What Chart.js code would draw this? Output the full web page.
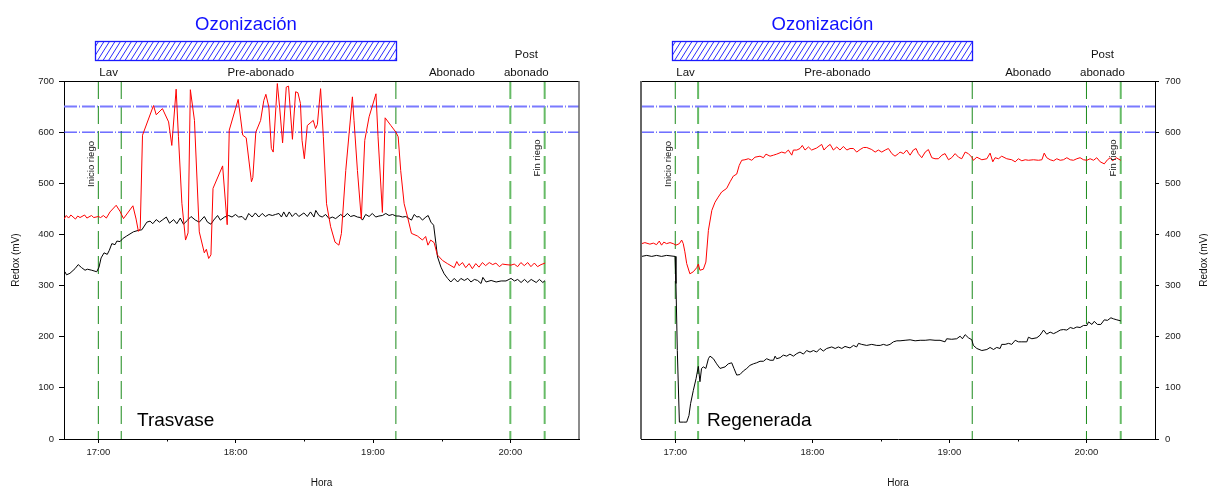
<!DOCTYPE html>
<html>
<head>
<meta charset="utf-8">
<script src="https://cdn.jsdelivr.net/npm/chart.js@4.4.0/dist/chart.umd.min.js"></script>
<style>
  body { margin: 0; background: #fff; }
  #wrap { position: relative; width: 1208px; height: 488px; }
  canvas { position: absolute; top: 0; }
</style>
</head>
<body>
<div id="wrap">
  <canvas id="trasvase" width="604" height="488" style="left:0;width:604px;height:488px"></canvas>
  <canvas id="regenerada" width="604" height="488" style="left:604px;width:604px;height:488px"></canvas>
</div>
<script>
// time is in minutes after 16:00
const hourTicks = [60, 120, 180, 240];
const hourLabels = ['17:00', '18:00', '19:00', '20:00'];
const halfHourTicks = [90, 150, 210];
const limitValues = [650, 600];
const riegoTimes = [60, 70, 190, 240, 255];
const ozoneSpan = [58.5, 190];
const phaseNames = ['Lav', 'Pre-abonado', 'Abonado', 'abonado'];
const phaseCenters = [64.5, 131, 214.5, 247];

// Trasvase - red
const trasRedT = [45, 46, 47, 48, 50, 51, 52, 54, 55, 57, 58, 60, 61, 62.2, 63.5, 65.1, 67.8, 69.5, 71, 75.1, 76.5, 77.5, 78.3, 79.3,
  84.1, 85.3, 88, 90.7, 92.1, 94, 95, 96.5, 98.1, 99.2, 100.2, 102, 104.1, 106.3, 107.2, 108.2, 109.2, 110.1, 114.3, 116.3, 117.2,
  121.1, 123.1, 124.6, 126.9, 127.5, 128.8, 130.9, 132.3, 133.2, 134.5, 135.6, 136.4, 138.2, 139.2, 140.5, 142.1, 143.1, 144.8,
  146.2, 147.2, 148.3, 149, 150, 151.3, 153.9, 154.9, 155.7, 157.1, 158.3, 159.7, 161.5, 163.4, 165.1, 166.2, 168.1, 171, 171.7,
  173.2, 174.9, 176.4, 178.3, 181.3, 182.2, 184.1, 185.3, 187.8, 190, 191, 192.1, 193.6, 195.1, 196.8, 199.4, 201.6, 203, 204,
  205.2, 206.7, 208.1, 210.4, 212.5, 215.5, 216.6, 217.6, 219.1, 220.5, 222, 223.4, 224.9, 226.3, 227.8, 229.2, 230.8, 232.3,
  233.7, 235.2, 236.6, 238.1, 240.3, 241.7, 243.2, 244.6, 246.1, 247.6, 249, 250.5, 251.9, 253.4, 255.2];
const trasRedV = [430, 437, 432, 438, 430, 436, 433, 438, 432, 437, 433, 435, 433, 437, 432, 444, 457, 445, 431, 456, 430, 406, 411, 594,
  652, 634, 646, 620, 574, 684, 591, 461, 389, 403, 683, 623, 405, 364, 371, 353, 360, 490, 534, 419, 604,
  664, 594, 589, 503, 511, 600, 623, 662, 674, 649, 568, 561, 695, 649, 579, 688, 690, 586,
  679, 677, 656, 584, 548, 613, 623, 607, 615, 685, 591, 460, 415, 385, 379, 402, 525, 669, 623,
  525, 430, 584, 630, 675, 591, 443, 628, 613, 600, 591, 525, 460, 434, 402, 397, 389, 396, 379,
  389, 384, 360, 349, 343, 335, 347, 339, 345, 335, 343, 333, 343, 336, 345, 339, 345, 341,
  344, 337, 342, 341, 340, 342, 337, 345, 339, 345, 337, 344, 337, 341, 344];

// Trasvase - black
const trasBlackT = [45.4, 46.1, 47.6, 49.8, 51.2, 52.7, 54.2, 55.2, 57.1, 59.3, 60.3, 61.2, 62.5, 63.9, 64.8, 65.9, 67.3, 68.1, 69.5,
  70.7, 72.4, 75.3, 77.5, 79, 81.2, 82.6, 83.8, 85.3, 86.7, 88.2, 89.7, 91.1, 92.9, 94.3, 95.8, 97.2, 99, 100.5, 102.4, 104.1,
  106.3, 107.7, 109.2, 110.4, 112.1, 113.3, 115.1, 116.9, 118.4, 119.9, 121.3, 122.8, 124.3, 125.7, 127.2, 128.6, 130.1, 131.6,
  133, 134.5, 136, 137.4, 138.9, 140, 141, 142.2, 143.4, 144.7, 146.2, 147.6, 149.8, 151.3, 152.7, 154.2, 155, 156.4, 157.8,
  159.3, 160.8, 162.2, 163.7, 165.9, 167.3, 168.8, 170.2, 171.7, 173.2, 174.6, 175.4, 176.8, 178.3, 179.7, 181.2, 182.6, 184.1,
  185.6, 187, 188.5, 190, 191.4, 192.9, 194.3, 195.8, 196.8, 198, 199.2, 200.2, 201.6, 203.1, 204.1, 205.3, 206.5, 207.5, 208.2,
  209.7, 211.1, 212.6, 214, 215.5, 217, 218.4, 219.9, 221.4, 222.8, 224.3, 225.7, 227.2, 228, 229.4, 231.6, 233.8, 236, 238.1,
  240.3, 241.8, 243.2, 244.7, 246.2, 247.6, 249.1, 251.3, 252.7, 254.2, 255.2];
const trasBlackV = [327, 321, 324, 333, 341, 335, 330, 332, 330, 327, 336, 354, 364, 361, 369, 382, 380, 387, 386,
  392, 397, 405, 408, 409, 424, 426, 421, 429, 424, 429, 434, 422, 429, 421, 432, 420, 428, 435, 428, 424,
  435, 424, 420, 428, 437, 428, 434, 437, 434, 439, 434, 435, 428, 441, 434, 442, 434, 441,
  435, 439, 437, 439, 441, 434, 444, 434, 444, 435, 442, 435, 442, 435, 444, 434, 447, 437, 434,
  439, 431, 434, 431, 439, 434, 441, 435, 437, 434, 433, 428, 439, 435, 441, 434, 436, 437,
  441, 437, 439, 436, 436, 434, 435, 431, 428, 439, 434, 435, 428, 434, 437, 424, 418, 382, 356,
  336, 323, 314, 307, 314, 307, 314, 310, 314, 307, 312, 310, 304, 316, 307, 310, 307, 309, 309,
  314, 309, 312, 306, 312, 306, 312, 306, 312, 306, 310];

// Regenerada - red
const regRedT = [45.3, 46.7, 48.9, 50.4, 51.8, 53, 54, 55, 56.2, 57.7, 59.1, 60.3, 61.8, 62.8, 63.5, 64.2, 65, 66.4, 67.9, 69.4,
  70.1, 70.8, 72.3, 73.4, 74.5, 76, 77.4, 78.8, 80.3, 82.5, 84, 85.4, 86.9, 88, 89.1, 90.5, 92, 93.5, 94.9, 97.1, 98.6, 99.7,
  101.5, 103, 104.4, 106.6, 108.1, 109.5, 111, 111.7, 113.2, 114.6, 115.6, 116.8, 118.3, 119.7, 121.9, 124.1, 125.1, 126.3,
  127.8, 129.2, 130.7, 132.1, 133.6, 135.1, 136.5, 138, 139.4, 140.9, 142.4, 143.8, 146, 147.5, 148.9, 150.4, 151.9, 153.3,
  154.8, 156.2, 157.7, 158.4, 159.9, 161.3, 162.8, 164.2, 165.4, 166.4, 167.9, 169.4, 170.8, 172.3, 173.7, 175.2, 176.7, 178.1,
  179.6, 181, 182.5, 184, 185.4, 186.9, 188.3, 189.8, 190.5, 192, 194.2, 196.4, 197.8, 199, 200, 201.5, 202.9, 205.1, 207.3,
  208.8, 210.2, 211.7, 213.2, 214.6, 216.8, 219, 220.5, 221.5, 222.6, 224.1, 225.6, 227, 228.5, 229.9, 231.4, 232.9, 234.3,
  235.8, 237.2, 238.7, 240.2, 241.6, 243.1, 244.5, 246, 247.8, 249.2, 250.4, 251.5, 253, 255];
const regRedV = [382, 384, 381, 383, 380, 387, 379, 385, 382, 384, 382, 379, 382, 389, 382, 366, 343, 323, 327, 335,
  342, 330, 332, 346, 408, 447, 463, 473, 483, 490, 503, 514, 518, 535, 545, 546, 548, 545, 551, 553, 550, 557,
  553, 555, 557, 561, 559, 565, 555, 565, 565, 568, 574, 565, 571, 565, 569, 576, 565, 571,
  576, 565, 571, 565, 572, 565, 568, 568, 561, 566, 570, 570, 566, 561, 565, 561, 565, 568,
  558, 553, 558, 561, 558, 565, 555, 565, 568, 558, 550, 561, 566, 550, 548, 548, 555, 558,
  546, 550, 558, 551, 548, 561, 558, 551, 545, 551, 546, 548, 559, 542, 550, 548, 553, 548, 546,
  542, 548, 544, 546, 545, 546, 545, 546, 559, 550, 546, 544, 548, 545, 546, 550, 546, 545,
  548, 550, 546, 545, 548, 545, 550, 542, 538, 546, 550, 544, 550, 545];

// Regenerada - black
const regBlackT = [45.3, 47.5, 49.7, 51.8, 54, 56.2, 59.9, 60.3, 60.9, 61.8, 63.5, 65, 66, 66.7, 67.9, 69.1, 70.1, 70.8, 71.5,
  72.3, 73.4, 74.5, 75.2, 76.7, 78.1, 79.6, 81.8, 83.2, 84.7, 85.7, 86.9, 88.3, 89.8, 91.3, 92.7, 94.2, 95.6, 97.1, 98.6, 100,
  101.5, 103, 103.7, 104.4, 105.9, 107.3, 108.8, 110.2, 111.7, 113.2, 114.6, 116.1, 117.5, 119, 120.5, 121.9, 123.4, 124.8,
  126.3, 128.5, 130, 131.4, 132.9, 134.3, 136.5, 138, 139.4, 140.2, 141.6, 143.8, 146, 148.2, 149.7, 151.1, 152.6, 154, 155.5,
  157, 158.4, 160.6, 162.8, 165, 167.2, 169.4, 171.5, 173.7, 175.9, 178.1, 178.8, 181, 183.2, 184.7, 185.7, 186.9, 188.3, 189.8,
  190.5, 192, 194.2, 196.4, 197.8, 199.3, 200.7, 202.2, 202.9, 204.4, 205.9, 207.3, 208.8, 210.2, 211.7, 213.9, 214.6, 216.1,
  218.3, 219.7, 221.2, 222.6, 224.1, 225.6, 227, 228.5, 229.9, 231.4, 232.9, 234.3, 235.8, 237.2, 238.7, 240.2, 240.9, 242.4,
  243.4, 244.8, 246.3, 247.8, 249.2, 250.7, 251.8, 253.3, 255];
const regBlackV = [357, 359, 357, 359, 357, 359, 357, 304, 173, 33, 33, 33, 46, 69, 95, 118, 142, 112, 138,
  141, 138, 157, 162, 157, 147, 138, 141, 147, 149, 138, 125, 126, 133, 138, 144, 147, 149, 152, 152, 157,
  154, 154, 162, 157, 159, 164, 162, 166, 162, 167, 170, 166, 173, 170, 173, 170, 177, 172,
  177, 180, 177, 180, 177, 181, 178, 183, 180, 187, 185, 183, 185, 183, 183, 185, 183, 185, 190,
  192, 192, 193, 194, 192, 193, 193, 194, 193, 193, 190, 196, 195, 196, 201, 196, 204, 198, 194,
  183, 177, 173, 175, 179, 175, 179, 177, 185, 185, 187, 185, 193, 190, 190, 190, 199, 196,
  198, 203, 213, 205, 209, 206, 209, 213, 214, 213, 218, 216, 219, 218, 222, 222, 229, 224,
  230, 224, 224, 233, 232, 237, 235, 233, 231];

const FONT = 'Arial, "Liberation Sans", sans-serif';

function pairs(t, v) {
  return t.map((x, i) => ({ x: x, y: v[i] }));
}

function text(ctx, s, x, y, size, color, align, rotate) {
  ctx.save();
  ctx.font = size + 'px ' + FONT;
  ctx.fillStyle = color;
  ctx.textAlign = align || 'center';
  ctx.textBaseline = 'alphabetic';
  ctx.translate(x, y);
  if (rotate) ctx.rotate(-Math.PI / 2);
  ctx.fillText(s, 0, 0);
  ctx.restore();
}

function makePanel(id, cfg) {
  const datasets = [
    { data: pairs(cfg.redT, cfg.redV), borderColor: '#ff0000', borderWidth: 1, order: 0 },
    { data: pairs(cfg.blackT, cfg.blackV), borderColor: '#000000', borderWidth: 1, order: 0 },
    { data: [{ x: 45, y: limitValues[0] }, { x: 270, y: limitValues[0] }], borderColor: '#7a7aff', borderWidth: 2, borderDash: [13, 2, 1, 2], order: 1 },
    { data: [{ x: 45, y: limitValues[1] }, { x: 270, y: limitValues[1] }], borderColor: '#2222ff', borderWidth: 1, borderDash: [13, 2, 1, 2], order: 1 },
  ];
  riegoTimes.forEach((t, i) => {
    const light = cfg.lightLines.includes(i);
    datasets.push({
      data: [{ x: t, y: 700 }, { x: t, y: 0 }],
      borderColor: light ? '#66bb66' : '#1a8a1a',
      borderWidth: light ? 2 : 1,
      borderDash: [18, 7],
      order: 1
    });
  });

  const decor = {
    id: 'decor',
    afterDraw(chart) {
      const ctx = chart.ctx;
      const a = chart.chartArea;
      const xs = chart.scales.x;
      const px = v => xs.getPixelForValue(v);

      // frame
      ctx.save();
      ctx.strokeStyle = '#000';
      ctx.lineWidth = 1;
      ctx.beginPath();
      ctx.moveTo(a.left, a.top + 0.5);
      ctx.lineTo(a.right, a.top + 0.5);
      ctx.stroke();
      ctx.strokeStyle = '#666';
      ctx.lineWidth = cfg.side === 'left' ? 1.5 : 2;
      ctx.beginPath();
      const fx = cfg.side === 'left' ? a.right : a.left;
      ctx.moveTo(fx, a.top);
      ctx.lineTo(fx, a.bottom);
      ctx.stroke();

      // minor ticks
      ctx.strokeStyle = '#000';
      ctx.lineWidth = 1;
      ctx.beginPath();
      halfHourTicks.forEach(v => {
        const x = Math.round(px(v)) + 0.5;
        ctx.moveTo(x, a.bottom);
        ctx.lineTo(x, a.bottom + 2.5);
      });
      ctx.stroke();

      // ozonizacion bar
      const x1 = Math.round(px(ozoneSpan[0])) + 0.5;
      const x2 = Math.round(px(ozoneSpan[1])) + 0.5;
      const yTop = 41.5, h = 19;
      ctx.save();
      ctx.beginPath();
      ctx.rect(x1, yTop, x2 - x1, h);
      ctx.clip();
      ctx.strokeStyle = '#2a2aff';
      ctx.lineWidth = 1;
      ctx.beginPath();
      for (let k = x1 - 20; k < x2 + 20; k += 5.5) {
        ctx.moveTo(k, yTop + h);
        ctx.lineTo(k + 12, yTop);
      }
      ctx.stroke();
      ctx.restore();
      ctx.strokeStyle = '#1a1aff';
      ctx.lineWidth = 1.3;
      ctx.strokeRect(x1, yTop, x2 - x1, h);
      ctx.restore();

      text(ctx, 'Ozonización', (x1 + x2) / 2, 30, 18.5, '#1010ff');

      // phase labels
      phaseNames.forEach((n, i) => text(ctx, n, px(phaseCenters[i]), 76, 11.5, '#111'));
      text(ctx, 'Post', px(phaseCenters[3]), 57.5, 11.5, '#111');

      // riego labels
      text(ctx, 'Inicio riego', px(riegoTimes[0]) - 4.5, 164, 9.5, '#111', 'center', true);
      text(ctx, 'Fin riego', px(riegoTimes[4]) - 4.5, 158, 9.5, '#111', 'center', true);

      // panel name
      text(ctx, cfg.name, a.left + cfg.nameOffset, 426, 19, '#000', 'left');

      // axis titles
      text(ctx, 'Hora', (a.left + a.right) / 2, 485.5, 10, '#111');
      text(ctx, 'Redox (mV)', cfg.yTitleX, (a.top + a.bottom) / 2, 10, '#111', 'center', true);
    }
  };

  const left = cfg.side === 'left';
  return new Chart(document.getElementById(id), {
    type: 'line',
    data: { datasets: datasets },
    options: {
      responsive: false,
      animation: false,
      events: [],
      layout: { padding: left ? { left: 0, top: 81, right: 25, bottom: 0 } : { left: 37, top: 81, right: 0, bottom: 0 } },
      elements: { point: { radius: 0 }, line: { tension: 0 } },
      plugins: { legend: { display: false }, tooltip: { enabled: false } },
      scales: {
        x: {
          type: 'linear',
          min: 45,
          max: 270,
          afterBuildTicks: s => { s.ticks = hourTicks.map(v => ({ value: v })); },
          afterFit: s => { s.height = 49; },
          ticks: {
            autoSkip: false,
            maxRotation: 0,
            padding: 4,
            color: '#222',
            font: { family: FONT, size: 9.5 },
            callback: v => hourLabels[hourTicks.indexOf(v)]
          },
          grid: { drawOnChartArea: false, drawTicks: true, tickLength: 4, color: '#000' },
          border: { color: '#000', width: 1 }
        },
        y: {
          position: left ? 'left' : 'right',
          min: 0,
          max: 700,
          afterFit: s => { s.width = left ? 64 : 53; },
          ticks: {
            stepSize: 100,
            padding: left ? 5 : 6,
            color: '#222',
            font: { family: FONT, size: 9.5 }
          },
          grid: { drawOnChartArea: false, drawTicks: true, tickLength: left ? 5 : 4, color: '#000' },
          border: { color: '#000', width: 1 }
        }
      }
    },
    plugins: [decor]
  });
}

makePanel('trasvase', {
  side: 'left', name: 'Trasvase', nameOffset: 73, yTitleX: 19,
  redT: trasRedT, redV: trasRedV, blackT: trasBlackT, blackV: trasBlackV,
  lightLines: [3, 4]
});
makePanel('regenerada', {
  side: 'right', name: 'Regenerada', nameOffset: 66, yTitleX: 603,
  redT: regRedT, redV: regRedV, blackT: regBlackT, blackV: regBlackV,
  lightLines: [1, 4]
});
</script>
</body>
</html>
